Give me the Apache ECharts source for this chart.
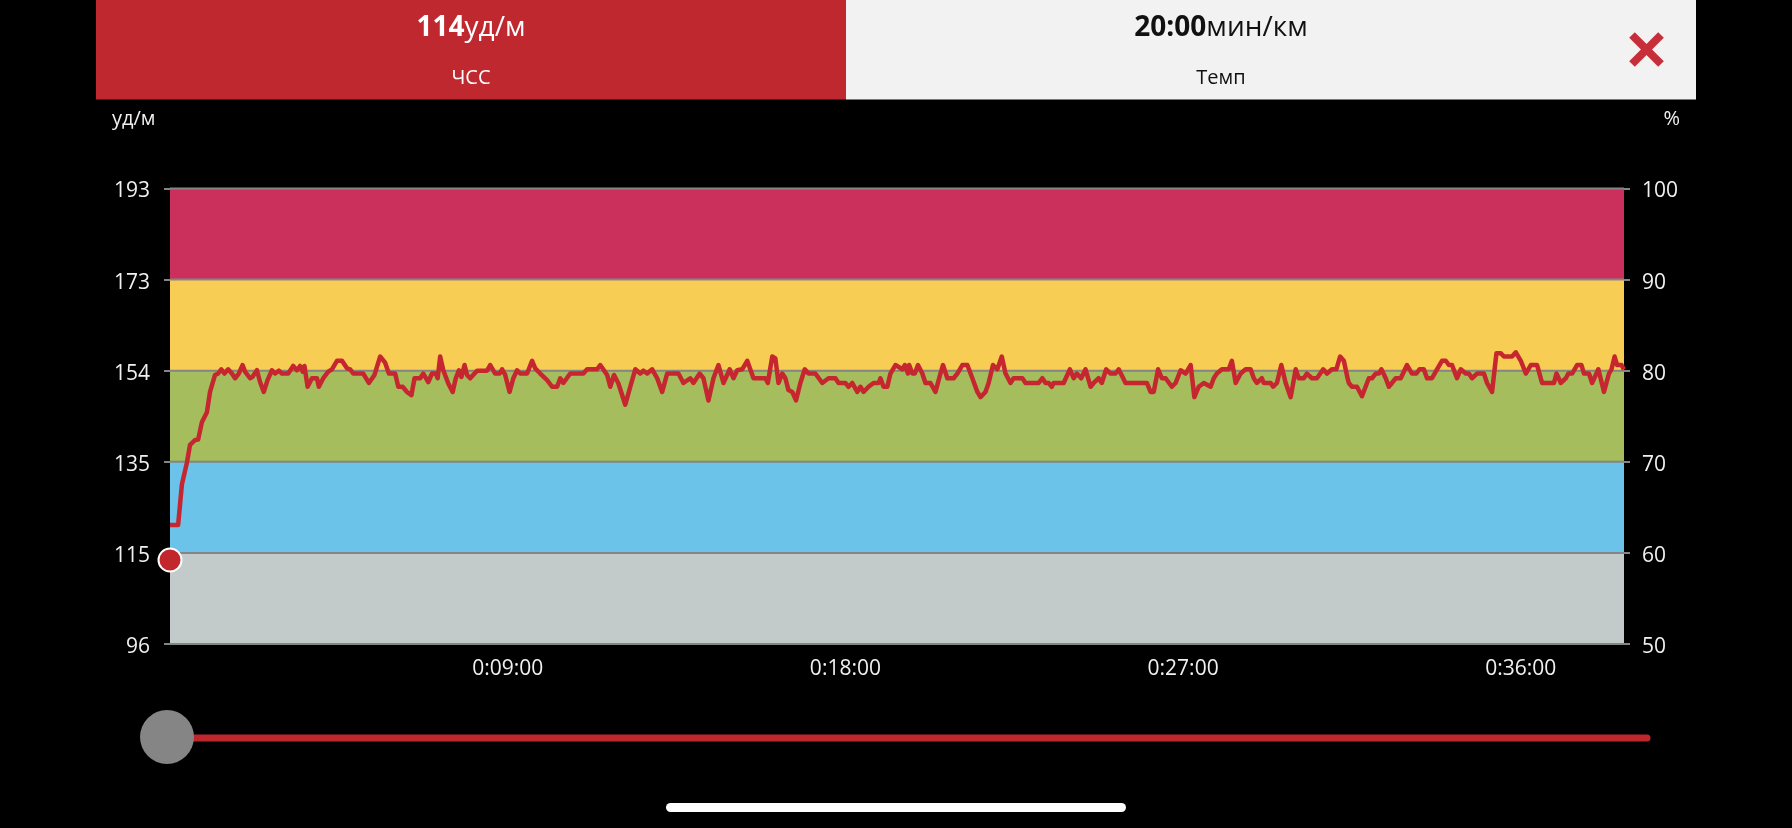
<!DOCTYPE html>
<html>
<head>
<meta charset="utf-8">
<script src="https://cdn.jsdelivr.net/npm/echarts@6/dist/echarts.min.js"></script>
<style>
html,body{margin:0;padding:0;background:#000;}
#chart{width:1792px;height:828px;}
</style>
</head>
<body>
<div id="chart"></div>
<script>
// ---- data ----
const maxHR = 193;
const zonePercents = [50, 60, 70, 80, 90, 100];
const zoneColors = ['#c3cbca', '#6bc3e9', '#a5bd5c', '#f8cd54', '#cb305c'];
const leftTickLabels = ['96', '115', '135', '154', '173', '193'];
const rightTickLabels = ['50', '60', '70', '80', '90', '100'];
const xTickSeconds = [540, 1080, 1620, 2160];
const xTickLabels = ['0:09:00', '0:18:00', '0:27:00', '0:36:00'];
const durationSec = 2325;
const cursorPoint = [0, 114.3];
const headerHR = '114';
const headerHRUnit = 'уд/м';
const headerHRLabel = 'ЧСС';
const headerPace = '20:00';
const headerPaceUnit = 'мин/км';
const headerPaceLabel = 'Темп';
const leftAxisName = 'уд/м';
const rightAxisName = '%';

// heart rate samples [seconds, bpm]
const hrSamples = [
[0,121.7],[13,121.7],[19,130.3],[27,134.9],[32,138.7],[40,139.7],[45,139.8],[51,143.5],[59,145.6],[64,149.9],
[72,153.5],[77,153.8],[82,154.7],[87,153.8],[93,154.7],[99,153.8],[104,152.8],[110,153.8],[116,155.6],[120,154.2],
[128,152.8],[132,153.1],[139,154.5],[144,152.0],[150,149.9],[156,152.4],[163,154.5],[168,153.8],[174,154.4],[179,153.8],
[189,153.8],[197,155.4],[203,154.5],[208,155.4],[212,154.2],[215,155.4],[220,151.0],[227,152.8],[235,152.8],[238,151.0],
[245,152.8],[253,154.2],[259,154.7],[267,156.5],[275,156.5],[283,154.9],[288,154.7],[293,153.8],[309,153.8],[318,151.8],
[327,153.5],[336,157.4],[344,156.1],[350,153.8],[360,153.8],[365,151.0],[372,151.0],[379,149.9],[386,149.2],[391,152.8],
[400,152.8],[405,153.8],[413,152.0],[419,153.8],[425,153.8],[428,152.8],[432,157.4],[437,154.5],[445,151.7],[452,149.9],
[457,152.8],[462,154.5],[466,153.1],[471,155.6],
[475,153.5],[480,152.8],[491,154.4],[507,154.4],[512,155.6],[520,153.8],[527,153.8],[531,154.7],[536,153.5],[543,149.9],
[549,152.8],[555,154.5],[560,153.8],[571,153.8],[579,156.5],[584,154.9],[592,153.8],[603,152.4],[611,151.0],[619,151.0],
[624,152.8],[629,151.8],[640,153.8],[661,153.8],[667,154.7],[683,154.7],[688,155.6],[699,153.5],[704,151.0],[710,153.5],
[717,151.7],[728,147.2],[736,151.0],[744,154.7],[752,153.8],[757,154.4],[763,153.8],[771,154.7],[779,152.8],[787,149.9],
[795,153.8],[813,153.8],[821,151.8],[832,152.8],[837,151.8],[847,153.8],[853,152.8],[861,148.1],[869,152.8],[877,155.6],
[885,151.8],[895,154.7],[901,152.8],[907,154.5],[915,154.7],[923,156.5],[933,152.8],
[952,152.8],[956,151.8],[963,157.4],[968,157.0],[973,151.8],[979,153.8],[984,152.8],[989,150.3],[995,149.9],[1001,148.1],
[1008,151.8],[1015,154.7],[1021,153.8],[1032,153.8],[1043,151.8],[1053,152.8],[1064,152.8],[1069,151.8],[1080,151.8],[1085,151.0],
[1091,151.8],[1099,149.9],[1104,151.0],[1109,149.9],[1117,151.0],[1125,151.8],[1133,151.8],[1136,152.8],[1141,151.0],[1147,151.0],
[1152,153.8],[1160,155.6],[1171,154.7],[1175,155.6],[1180,153.8],[1182,155.6],[1187,153.8],[1191,153.8],[1196,155.6],[1203,153.8],
[1208,151.8],[1216,151.8],[1224,149.9],[1232,153.8],[1236,155.6],[1243,152.8],[1253,152.8],[1259,153.8],[1267,155.6],[1275,155.6],
[1283,152.8],[1291,149.9],[1296,148.8],[1304,149.9],[1309,151.8],[1316,155.6],[1323,154.7],[1330,157.4],[1336,153.8],[1344,151.8],
[1349,152.8],[1363,152.8],[1368,151.8],[1389,151.8],[1395,152.8],[1400,151.8],[1405,151.8],[1410,151.0],
[1413,151.8],[1429,151.8],[1439,154.7],[1445,152.8],[1450,153.8],[1457,152.8],[1464,154.7],[1472,151.0],[1477,151.8],[1485,152.8],
[1490,151.8],[1497,154.7],[1504,153.8],[1512,153.8],[1517,154.7],[1528,151.8],[1552,151.8],[1562,151.8],[1568,149.9],[1573,149.9],
[1580,154.7],[1586,152.8],[1592,152.8],[1602,151.0],[1608,151.8],[1616,154.5],[1624,153.8],[1632,155.6],[1638,148.8],[1645,151.0],
[1653,151.8],[1664,151.0],[1669,152.8],[1674,153.8],[1682,154.7],[1693,154.7],[1698,156.5],[1704,151.8],[1712,153.8],[1720,154.7],
[1728,154.7],[1733,152.8],[1738,151.8],[1746,152.8],[1749,151.8],[1760,151.8],[1764,151.0],[1770,151.8],[1777,155.6],[1784,151.8],
[1792,148.8],[1800,154.7],[1805,152.8],[1813,152.8],[1818,153.8],[1826,152.8],[1834,152.8],[1844,154.7],[1850,153.8],[1858,154.7],
[1865,154.7],[1871,157.4],[1877,156.5],[1883,152.8],
[1885,151.8],[1890,151.0],[1898,151.0],[1906,149.0],[1917,152.8],[1922,152.8],[1928,153.8],[1933,153.8],[1937,154.7],[1944,152.8],
[1949,151.0],[1960,152.8],[1968,152.8],[1978,155.6],[1986,153.8],[1993,153.8],[1998,154.7],[2005,154.7],[2010,152.8],[2018,152.8],
[2026,154.7],[2034,156.5],[2040,156.5],[2045,155.6],[2050,155.6],[2058,152.8],[2064,154.7],[2072,153.8],[2077,153.8],[2082,152.8],
[2090,153.8],[2101,153.8],[2106,151.8],[2114,149.9],[2121,158.1],[2128,158.1],[2133,157.4],[2146,157.4],[2152,158.3],[2160,156.5],
[2168,153.8],[2176,155.6],[2186,155.6],[2194,151.8],[2213,151.8],[2217,153.8],[2224,151.8],[2232,152.8],[2236,153.8],[2242,153.8],
[2250,155.6],[2257,155.6],[2261,153.8],[2269,153.8],[2274,151.8],[2284,154.7],[2293,149.9],[2301,153.8],[2305,154.7],[2310,157.4],
[2314,155.6],[2321,155.6],[2325,154.7]
];

// ---- derived ----
const hrMin = maxHR * zonePercents[0] / 100;
const hrStep = maxHR * (zonePercents[1] - zonePercents[0]) / 100;
const zoneData = zoneColors.map((c, i) => [0, maxHR * zonePercents[i] / 100, maxHR * zonePercents[i + 1] / 100, i]);

const FONT = '"Open Sans", "Noto Sans", sans-serif';
const chart = echarts.init(document.getElementById('chart'), null, {renderer: 'canvas'});

const option = {
  backgroundColor: '#000000',
  animation: false,
  grid: {left: 170, right: 168, top: 188.5, bottom: 184},
  xAxis: {
    type: 'value', min: 0, max: durationSec, interval: 540,
    axisLine: {show: false}, axisTick: {show: false}, splitLine: {show: false},
    axisLabel: {
      color: '#f0f0f0', fontSize: 21, fontFamily: FONT, margin: 15,
      showMinLabel: false, showMaxLabel: false,
      formatter: v => { const i = xTickSeconds.indexOf(Math.round(v)); return i >= 0 ? xTickLabels[i] : ''; }
    }
  },
  yAxis: [{
    type: 'value', position: 'left', min: hrMin, max: maxHR, interval: hrStep,
    axisLine: {show: false},
    axisTick: {show: true, length: 6, lineStyle: {color: '#858585', width: 2}},
    splitLine: {show: false},
    axisLabel: {
      color: '#f0f0f0', fontSize: 21, fontFamily: FONT, margin: 20,
      verticalAlign: 'top', lineHeight: 6,
      formatter: (v) => { const i = Math.round((v - hrMin) / hrStep); return leftTickLabels[i] || ''; }
    }
  }, {
    type: 'value', position: 'right', min: zonePercents[0], max: zonePercents[zonePercents.length - 1], interval: 10,
    axisLine: {show: false},
    axisTick: {show: true, length: 6, lineStyle: {color: '#858585', width: 2}},
    splitLine: {show: false},
    axisLabel: {
      color: '#f0f0f0', fontSize: 21, fontFamily: FONT, margin: 18,
      verticalAlign: 'top', lineHeight: 6,
      formatter: (v) => { const i = zonePercents.indexOf(Math.round(v)); return i >= 0 ? rightTickLabels[i] : ''; }
    }
  }],
  series: [{
    type: 'custom',
    xAxisIndex: 0, yAxisIndex: 0,
    silent: true,
    z: 1,
    data: zoneData,
    encode: {x: 0, y: 1},
    renderItem: function (params, api) {
      const cs = params.coordSys;
      const yLo = api.coord([0, api.value(1)])[1];
      const yHi = api.coord([0, api.value(2)])[1];
      const idx = api.value(3);
      const children = [{
        type: 'rect', z2: 0,
        shape: {x: cs.x, y: yHi, width: cs.width, height: yLo - yHi},
        style: {fill: zoneColors[idx]}
      }, {
        type: 'line', z2: 10,
        shape: {x1: cs.x, y1: yHi, x2: cs.x + cs.width, y2: yHi},
        style: {stroke: '#858585', lineWidth: 2}
      }];
      if (idx === 0) {
        children.push({
          type: 'line', z2: 10,
          shape: {x1: cs.x, y1: yLo, x2: cs.x + cs.width, y2: yLo},
          style: {stroke: '#858585', lineWidth: 2}
        });
      }
      return {type: 'group', children: children};
    }
  }, {
    type: 'line',
    xAxisIndex: 0, yAxisIndex: 0,
    data: hrSamples,
    symbol: 'none', showSymbol: false,
    zlevel: 1, z: 3,
    lineStyle: {color: '#c5262f', width: 4.5, join: 'round'},
    silent: true
  }, {
    type: 'scatter',
    xAxisIndex: 0, yAxisIndex: 0,
    data: [cursorPoint],
    symbolSize: 23,
    clip: false,
    zlevel: 1, z: 5,
    itemStyle: {color: '#c1272d', borderColor: '#ffffff', borderWidth: 2, opacity: 1},
    silent: true
  }],
  graphic: [
    {type: 'rect', shape: {x: 96, y: 0, width: 750, height: 99.5}, style: {fill: '#c0282f'}, silent: true},
    {type: 'rect', shape: {x: 846, y: 0, width: 850, height: 99.5}, style: {fill: '#f2f2f2'}, silent: true},
    {type: 'text', x: 471, y: 28.5, silent: true, style: {
      text: '{b|' + headerHR + '}{n|' + headerHRUnit + '}', align: 'center', verticalAlign: 'middle',
      rich: {b: {fontWeight: 'bold', fontSize: 28, fill: '#ffffff', fontFamily: FONT},
             n: {fontSize: 28, fill: '#ffffff', fontFamily: FONT}}
    }},
    {type: 'text', x: 471, y: 78.5, silent: true, style: {
      text: headerHRLabel, align: 'center', verticalAlign: 'middle', fontSize: 20, fontFamily: FONT, fill: '#ffffff'
    }},
    {type: 'text', x: 1221, y: 28.5, silent: true, style: {
      text: '{b|' + headerPace + '}{n|' + headerPaceUnit + '}', align: 'center', verticalAlign: 'middle',
      rich: {b: {fontWeight: 'bold', fontSize: 28, fill: '#111111', fontFamily: FONT},
             n: {fontSize: 28, fill: '#111111', fontFamily: FONT}}
    }},
    {type: 'text', x: 1221, y: 78.5, silent: true, style: {
      text: headerPaceLabel, align: 'center', verticalAlign: 'middle', fontSize: 20, fontFamily: FONT, fill: '#111111'
    }},
    {type: 'line', shape: {x1: 1632, y1: 35, x2: 1661, y2: 64}, style: {stroke: '#c62f3a', lineWidth: 8}, silent: true},
    {type: 'line', shape: {x1: 1661, y1: 35, x2: 1632, y2: 64}, style: {stroke: '#c62f3a', lineWidth: 8}, silent: true},
    {type: 'text', x: 112, y: 119, silent: true, style: {
      text: leftAxisName, align: 'left', verticalAlign: 'middle', fontSize: 20, fontFamily: FONT, fill: '#f0f0f0'
    }},
    {type: 'text', x: 1680, y: 119, silent: true, style: {
      text: rightAxisName, align: 'right', verticalAlign: 'middle', fontSize: 20, fontFamily: FONT, fill: '#f0f0f0'
    }},
    {type: 'line', shape: {x1: 167, y1: 738, x2: 1647, y2: 738}, style: {stroke: '#c0272d', lineWidth: 7, lineCap: 'round'}, silent: true},
    {type: 'circle', shape: {cx: 167, cy: 737, r: 27}, style: {fill: '#858585'}, silent: true},
    {type: 'rect', shape: {x: 666, y: 803, width: 460, height: 9, r: 4.5}, style: {fill: '#ffffff'}, silent: true}
  ]
};
chart.setOption(option);
</script>
</body>
</html>
